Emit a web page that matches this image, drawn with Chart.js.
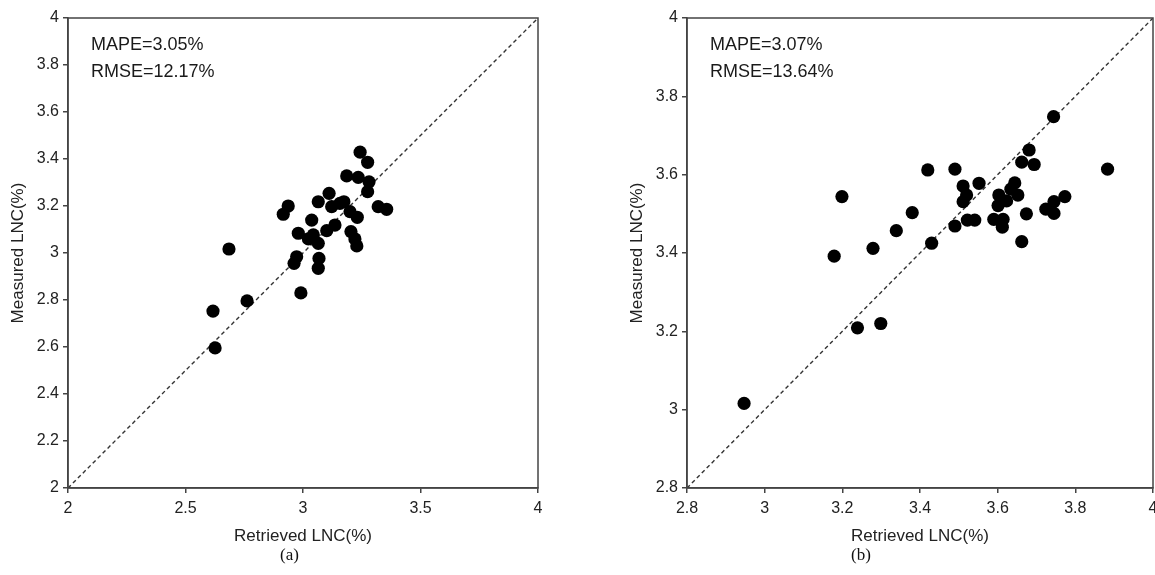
<!DOCTYPE html>
<html>
<head>
<meta charset="utf-8">
<script src="https://cdn.jsdelivr.net/npm/chart.js@4.4.1/dist/chart.umd.min.js"></script>
<style>
  body { margin: 0; width: 1155px; height: 575px; overflow: hidden; background: #fff; position: relative; }
  canvas { position: absolute; top: 0; }
  #chartA { left: 0; }
  #chartB { left: 619px; }
  .cap { position: absolute; top: 545px; font-family: "Liberation Serif", "Times New Roman", serif; font-size: 17px; color: #111; }
</style>
</head>
<body>
<canvas id="chartA" width="578" height="548"></canvas>
<canvas id="chartB" width="560" height="548"></canvas>
<div class="cap" style="left:280px">(a)</div>
<div class="cap" style="left:851px">(b)</div>
<script>
"use strict";
// chart (a) values
let retrievedA = [3.243, 3.275, 3.186, 3.235, 3.281, 3.275, 3.111, 3.065, 2.937, 2.916,
  3.122, 3.157, 3.174, 3.200, 3.231, 3.320, 3.356, 3.037, 3.136, 3.101,
  2.980, 3.044, 3.023, 3.065, 3.204, 3.221, 3.229, 2.973, 2.962, 3.068,
  3.065, 2.685, 2.762, 2.991, 2.617, 2.626];
let measuredA = [3.429, 3.386, 3.328, 3.322, 3.303, 3.261, 3.254, 3.218, 3.200, 3.165,
  3.197, 3.211, 3.218, 3.176, 3.152, 3.197, 3.186, 3.140, 3.119, 3.095,
  3.084, 3.077, 3.060, 3.041, 3.091, 3.060, 3.030, 2.984, 2.956, 2.977,
  2.935, 3.017, 2.796, 2.830, 2.753, 2.596];

// chart (b) values
let retrievedB = [3.681, 3.662, 3.694, 3.883, 3.490, 3.511, 3.552, 3.644, 3.634, 3.652,
  3.603, 3.623, 3.601, 3.520, 3.511, 3.773, 3.745, 3.724, 3.745, 3.674,
  3.522, 3.541, 3.590, 3.614, 3.612, 3.490, 3.662, 3.199, 3.179, 3.279,
  3.239, 3.299, 2.947, 3.744, 3.420, 3.380, 3.339, 3.430];
let measuredB = [3.663, 3.632, 3.626, 3.614, 3.614, 3.571, 3.578, 3.579, 3.563, 3.548,
  3.548, 3.533, 3.521, 3.548, 3.531, 3.544, 3.531, 3.512, 3.501, 3.500,
  3.484, 3.484, 3.486, 3.486, 3.466, 3.469, 3.429, 3.544, 3.392, 3.412,
  3.209, 3.220, 3.016, 3.748, 3.612, 3.503, 3.457, 3.425];

let xTicksA = [2, 2.5, 3, 3.5, 4];
let yTicksA = [2, 2.2, 2.4, 2.6, 2.8, 3, 3.2, 3.4, 3.6, 3.8, 4];
let ticksB = [2.8, 3, 3.2, 3.4, 3.6, 3.8, 4];
let statsA = ["MAPE=3.05%", "RMSE=12.17%"];
let statsB = ["MAPE=3.07%", "RMSE=13.64%"];
let xTitle = "Retrieved LNC(%)";
let yTitle = "Measured LNC(%)";

const fontFamily = "'Liberation Sans', Arial, sans-serif";
const ink = "#444";

function toPoints(xs, ys) {
  let pts = [];
  for (let i = 0; i < xs.length; i++) {
    pts.push({ x: xs[i], y: ys[i] });
  }
  return pts;
}

// box around plot area + the MAPE/RMSE text
const framePlugin = {
  id: "frame",
  afterDraw(chart, args, opts) {
    let ctx = chart.ctx;
    let a = chart.chartArea;
    ctx.save();
    ctx.strokeStyle = ink;
    ctx.lineWidth = 1.5;
    ctx.strokeRect(a.left, a.top, a.right - a.left, a.bottom - a.top);
    ctx.fillStyle = "#1a1a1a";
    ctx.font = "18px " + fontFamily;
    ctx.textBaseline = "middle";
    for (let i = 0; i < opts.lines.length; i++) {
      ctx.fillText(opts.lines[i], a.left + 23, a.top + 27 + i * 27);
    }
    ctx.restore();
  }
};

function makeChart(id, xs, ys, xTicks, yTicks, stats, padRight) {
  let lo = xTicks[0];
  let hi = xTicks[xTicks.length - 1];
  let axis = (ticks, isX) => ({
    type: "linear",
    min: ticks[0],
    max: ticks[ticks.length - 1],
    afterBuildTicks: s => { s.ticks = ticks.map(v => ({ value: v })); },
    afterFit: s => { if (isX) s.height = 60; else s.width = 68; },
    grid: { drawOnChartArea: false, drawTicks: true, tickLength: 5, color: ink, lineWidth: 1.5 },
    border: { color: ink, width: 1.5 },
    ticks: { color: "#222", font: { size: 16, family: fontFamily }, padding: isX ? 6 : 4, maxRotation: 0, callback: v => String(v) },
    title: {
      display: true,
      text: isX ? xTitle : yTitle,
      color: "#222",
      font: { size: 17, family: fontFamily },
      padding: isX ? { top: 0, bottom: 1 } : { top: 8, bottom: 0 }
    }
  });

  return new Chart(document.getElementById(id), {
    type: "scatter",
    data: {
      datasets: [
        {
          data: toPoints(xs, ys),
          backgroundColor: "#000",
          borderWidth: 0,
          pointRadius: 6.6,
          order: 0
        },
        {
          type: "line",
          data: [{ x: lo, y: yTicks[0] }, { x: hi, y: yTicks[yTicks.length - 1] }],
          borderColor: "#333",
          borderWidth: 1.4,
          borderDash: [4, 3],
          pointRadius: 0,
          order: 1
        }
      ]
    },
    options: {
      responsive: false,
      animation: false,
      layout: { padding: { top: 18, right: padRight, left: 0, bottom: 0 } },
      plugins: { legend: { display: false }, tooltip: { enabled: false }, frame: { lines: stats } },
      scales: { x: axis(xTicks, true), y: axis(yTicks, false) }
    },
    plugins: [framePlugin]
  });
}

makeChart("chartA", retrievedA, measuredA, xTicksA, yTicksA, statsA, 40);
makeChart("chartB", retrievedB, measuredB, ticksB, ticksB, statsB, 26);
</script>
</body>
</html>
